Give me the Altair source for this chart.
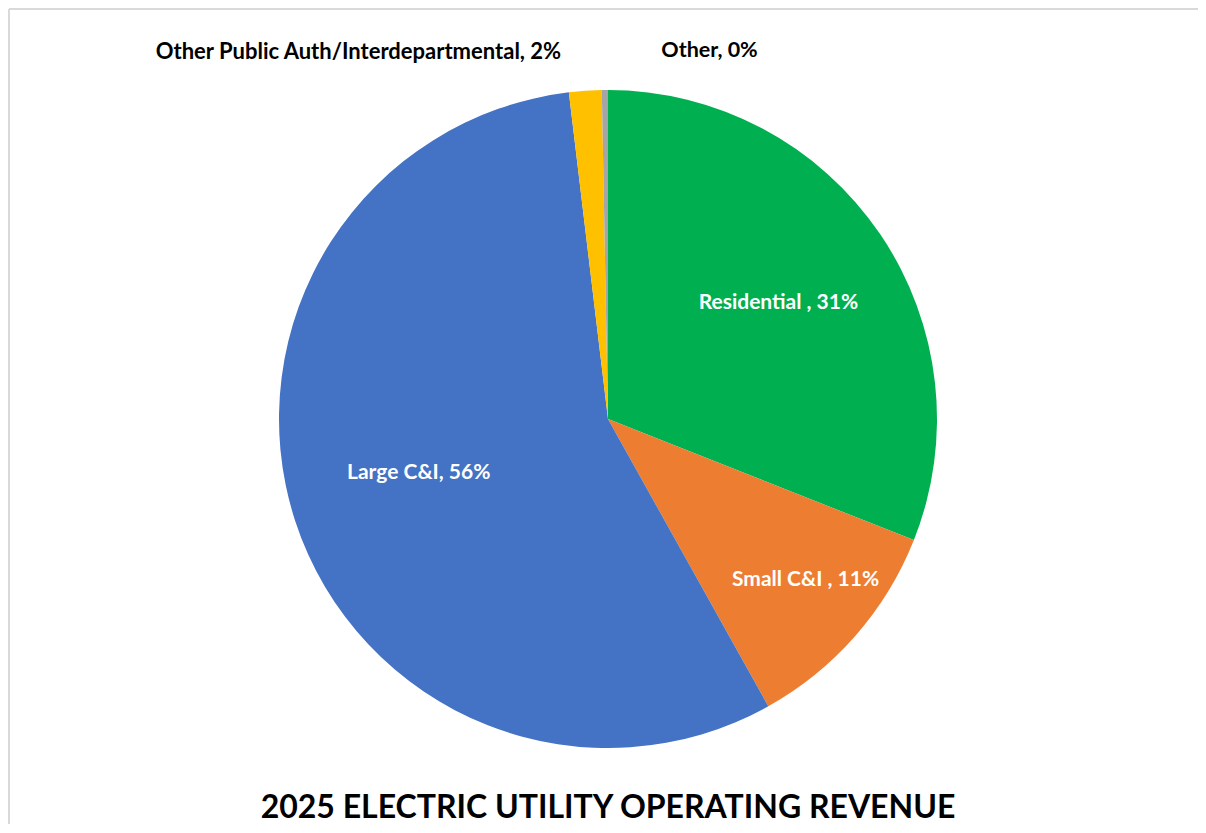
import altair as alt
import pandas as pd

categories = ["Residential ", "Small C&I ", "Large C&I", "Other Public Auth/Interdepartmental", "Other"]
values = [31.0, 10.9, 56.2, 1.6, 0.3]
colors = ["#00B050", "#ED7D31", "#4472C4", "#FFC000", "#A5A5A5"]
title_text = "2025 ELECTRIC UTILITY OPERATING REVENUE"

total = sum(values)
df = pd.DataFrame({"category": categories, "value": values, "order": list(range(len(values)))})

FONT = "Lato"
theta_scale = alt.Scale(domain=[0, total])
color_scale = alt.Scale(domain=categories, range=colors)

arcs = alt.Chart(df).mark_arc(outerRadius=329).encode(
    theta=alt.Theta("value:Q", stack=True, scale=theta_scale),
    color=alt.Color("category:N", scale=color_scale, legend=None),
    order=alt.Order("order:Q"),
)

base = alt.Chart(df).transform_window(
    cum="sum(value)", sort=[{"field": "order"}], frame=[None, 0]
).transform_calculate(
    mid="datum.cum - datum.value / 2",
    label="datum.category + ', ' + format(datum.value / %f, '.0%%')" % total,
)

def label_layer(cat, radius, color, size, dx=0, dy=0):
    return base.transform_filter(alt.datum.category == cat).mark_text(
        radius=radius, dx=dx, dy=dy, font=FONT, fontWeight="bold",
        fontSize=size, color=color, align="center", baseline="middle",
    ).encode(
        theta=alt.Theta("mid:Q", scale=theta_scale),
        text="label:N",
    )

labels = [
    label_layer(categories[0], 206, "white", 21),
    label_layer(categories[1], 252, "white", 21, dx=8, dy=-5),
    label_layer(categories[2], 199, "white", 21, dy=-7),
    label_layer(categories[3], 370, "black", 22, dx=-224, dy=2),
    label_layer(categories[4], 370, "black", 21.5, dx=105, dy=2),
]

frame_color = "#D9D9D9"
frame_top = alt.Chart(df).mark_rule(color=frame_color, strokeWidth=2).encode(
    x=alt.value(-9), x2=alt.value(1300), y=alt.value(-5)
)
frame_left = alt.Chart(df).mark_rule(color=frame_color, strokeWidth=2).encode(
    x=alt.value(-9), y=alt.value(-5), y2=alt.value(818)
)

chart = alt.layer(frame_top, frame_left, arcs, *labels).properties(
    width=1180,
    height=810,
    padding={"left": 10, "top": 6, "right": 0, "bottom": 0},
    autosize=alt.AutoSizeParams(type="none"),
    title=alt.Title(
        title_text, orient="bottom", anchor="middle", offset=-40, frame="group",
        font=FONT, fontSize=32, fontWeight="bold", color="black",
    ),
).configure(
    background="white",
    view=alt.ViewConfig(stroke=None),
)

chart.save("out.html", embed_options={"renderer": "svg", "actions": False})
